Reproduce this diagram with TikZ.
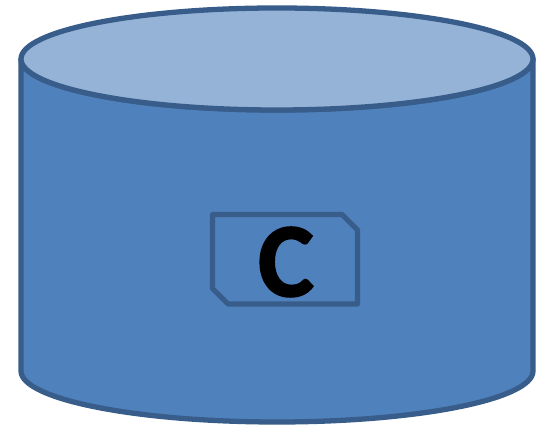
\documentclass[tikz,border=0pt]{standalone}
\usepackage{fontspec}
\setmainfont{Carlito}
\newfontfamily\tagfont[FakeBold=1.6]{Carlito Bold}
\definecolor{drumfill}{RGB}{79,129,189}
\definecolor{drumtop}{RGB}{149,179,215}
\definecolor{drumline}{RGB}{56,93,138}

\begin{document}
\begin{tikzpicture}[
  drumedge/.style={draw=drumline, line width=3pt, line join=round},
  tagedge/.style={draw=drumline, line width=3pt, line join=round},
  taglabel/.style={font=\fontsize{60}{60}\selectfont\tagfont, text=black, inner sep=0pt}
]
\useasboundingbox (0,0) rectangle (10.74,8.5);

% -- Drum body and lid --
\draw[drumedge, fill=drumfill]
  (0.42,7.32) -- (0.42,1.08) arc[start angle=180, end angle=360, x radius=5.12, y radius=1.02]
  -- (10.66,7.32) arc[start angle=0, end angle=-180, x radius=5.12, y radius=1.02] -- cycle;
\draw[drumedge, fill=drumtop] (5.54,7.32) ellipse[x radius=5.12, y radius=1.02];

% -- Label tag --
\draw[tagedge]
  (4.25,4.21) -- (6.84,4.21) -- (7.15,3.90) -- (7.15,2.42)
  -- (4.56,2.42) -- (4.25,2.73) -- cycle;
\node[taglabel] (TagC) at (5.72,3.26) {C};

\end{tikzpicture}
\end{document}
